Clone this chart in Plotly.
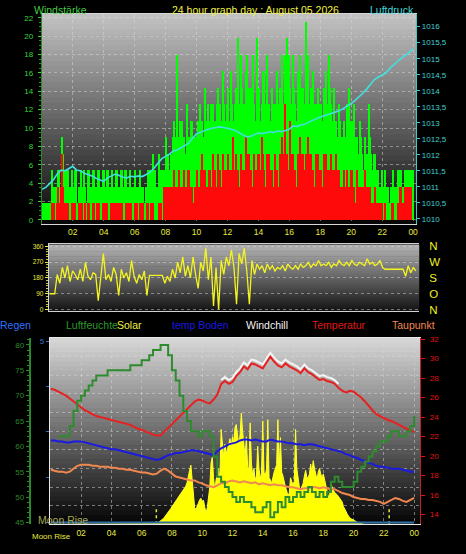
import plotly.graph_objects as go

W, H = 466, 554

# time axes
slot5_h = [i / 12 for i in range(288)]    # 5 minute slots
slot_h = [i / 6 for i in range(144)]      # 10 minute slots
quarter_h = [i / 4 for i in range(97)]    # 15 minute samples
tick_h = [2, 4, 6, 8, 10, 12, 14, 16, 18, 20, 22, 24]
tick_txt = ["02", "04", "06", "08", "10", "12", "14", "16", "18", "20", "22", "00"]

# wind speed km/h, 5 minute slots, one row per hour (gust = green, average = red)
gust_kmh = [
    1.8, 1.8, 1.8, 1.8, 1.8, 1.8, 1.8, 5.4, 3.6, 3.6, 3.6, 3.6,
    5.4, 5.4, 3.6, 9.0, 7.2, 5.4, 5.4, 3.6, 5.4, 3.6, 1.8, 5.4,
    3.6, 5.4, 5.4, 1.8, 3.6, 1.8, 5.4, 3.6, 5.4, 3.6, 1.8, 5.4,
    5.4, 3.6, 3.6, 5.4, 5.4, 3.6, 3.6, 5.4, 5.4, 3.6, 3.6, 5.4,
    5.4, 3.6, 5.4, 5.4, 3.6, 3.6, 5.4, 3.6, 3.6, 5.4, 5.4, 3.6,
    3.6, 5.4, 5.4, 3.6, 5.4, 5.4, 3.6, 3.6, 5.4, 3.6, 3.6, 1.8,
    5.4, 3.6, 3.6, 3.6, 5.4, 3.6, 3.6, 1.8, 3.6, 3.6, 5.4, 5.4,
    5.4, 3.6, 7.2, 5.4, 3.6, 3.6, 7.2, 5.4, 5.4, 5.4, 5.4, 5.4,
    9.0, 7.2, 5.4, 5.4, 7.2, 9.0, 10.8, 9.0, 18.0, 9.0, 9.0, 10.8,
    10.8, 9.0, 9.0, 7.2, 12.6, 9.0, 9.0, 10.8, 10.8, 9.0, 9.0, 7.2,
    9.0, 10.8, 12.6, 9.0, 10.8, 9.0, 14.4, 10.8, 12.6, 9.0, 10.8, 12.6,
    12.6, 9.0, 10.8, 12.6, 14.4, 10.8, 12.6, 10.8, 16.2, 12.6, 10.8, 12.6,
    14.4, 10.8, 16.2, 12.6, 10.8, 12.6, 14.4, 10.8, 19.8, 12.6, 18.0, 14.4,
    12.6, 10.8, 16.2, 18.0, 14.4, 10.8, 14.4, 18.0, 12.6, 10.8, 19.8, 12.6,
    14.4, 10.8, 12.6, 16.2, 16.2, 12.6, 18.0, 12.6, 12.6, 10.8, 14.4, 12.6,
    12.6, 10.8, 16.2, 12.6, 14.4, 10.8, 18.0, 12.6, 18.0, 14.4, 19.8, 18.0,
    14.4, 12.6, 18.0, 14.4, 12.6, 10.8, 16.2, 12.6, 18.0, 14.4, 14.4, 12.6,
    21.6, 14.4, 18.0, 12.6, 14.4, 10.8, 16.2, 12.6, 12.6, 10.8, 14.4, 12.6,
    12.6, 10.8, 14.4, 12.6, 16.2, 12.6, 18.0, 14.4, 12.6, 10.8, 14.4, 10.8,
    10.8, 9.0, 12.6, 10.8, 9.0, 7.2, 10.8, 9.0, 12.6, 10.8, 14.4, 10.8,
    10.8, 9.0, 12.6, 9.0, 9.0, 7.2, 10.8, 9.0, 7.2, 5.4, 9.0, 7.2,
    7.2, 12.6, 9.0, 7.2, 5.4, 7.2, 7.2, 5.4, 5.4, 3.6, 3.6, 5.4,
    3.6, 3.6, 5.4, 3.6, 3.6, 1.8, 3.6, 3.6, 5.4, 3.6, 3.6, 3.6,
    5.4, 5.4, 5.4, 3.6, 3.6, 5.4, 5.4, 5.4, 5.4, 5.4, 5.4, 5.4,
]
avg_kmh = [
    0, 0, 0, 0, 0, 0, 0, 1.8, 0, 1.8, 0, 1.8,
    3.6, 1.8, 3.6, 7.2, 3.6, 1.8, 1.8, 0, 1.8, 0, 0, 1.8,
    1.8, 1.8, 0, 0, 1.8, 0, 1.8, 1.8, 0, 1.8, 0, 1.8,
    1.8, 0, 0, 1.8, 1.8, 0, 1.8, 1.8, 1.8, 0, 0, 1.8,
    1.8, 1.8, 1.8, 0, 0, 1.8, 1.8, 1.8, 1.8, 0, 1.8, 1.8,
    1.8, 1.8, 1.8, 0, 0, 1.8, 1.8, 0, 1.8, 1.8, 0, 0,
    1.8, 1.8, 0, 0, 1.8, 1.8, 1.8, 0, 0, 1.8, 1.8, 0,
    1.8, 1.8, 1.8, 0, 0, 0, 1.8, 1.8, 1.8, 0, 3.6, 1.8,
    3.6, 3.6, 3.6, 1.8, 3.6, 3.6, 5.4, 3.6, 3.6, 3.6, 5.4, 3.6,
    3.6, 3.6, 5.4, 3.6, 3.6, 5.4, 5.4, 3.6, 3.6, 1.8, 3.6, 3.6,
    5.4, 3.6, 3.6, 5.4, 7.2, 5.4, 5.4, 3.6, 3.6, 5.4, 5.4, 3.6,
    7.2, 5.4, 5.4, 3.6, 7.2, 5.4, 5.4, 3.6, 7.2, 5.4, 5.4, 3.6,
    7.2, 5.4, 5.4, 3.6, 9.0, 5.4, 7.2, 5.4, 5.4, 3.6, 7.2, 5.4,
    5.4, 3.6, 9.0, 7.2, 7.2, 5.4, 5.4, 3.6, 7.2, 5.4, 5.4, 7.2,
    7.2, 5.4, 9.0, 7.2, 5.4, 3.6, 7.2, 5.4, 7.2, 5.4, 5.4, 3.6,
    7.2, 5.4, 5.4, 3.6, 7.2, 5.4, 9.0, 7.2, 12.6, 7.2, 7.2, 5.4,
    10.8, 7.2, 7.2, 5.4, 5.4, 3.6, 7.2, 5.4, 9.0, 7.2, 7.2, 5.4,
    7.2, 5.4, 9.0, 7.2, 7.2, 5.4, 5.4, 3.6, 7.2, 5.4, 7.2, 5.4,
    5.4, 3.6, 7.2, 5.4, 7.2, 5.4, 5.4, 3.6, 7.2, 5.4, 5.4, 3.6,
    7.2, 5.4, 5.4, 3.6, 3.6, 1.8, 5.4, 3.6, 5.4, 3.6, 3.6, 5.4,
    5.4, 3.6, 3.6, 1.8, 5.4, 3.6, 3.6, 1.8, 3.6, 3.6, 5.4, 3.6,
    3.6, 3.6, 3.6, 1.8, 1.8, 1.8, 3.6, 1.8, 1.8, 0, 1.8, 1.8,
    0, 0, 1.8, 0, 0, 0, 0, 1.8, 1.8, 0, 0, 0,
    1.8, 3.6, 3.6, 1.8, 1.8, 3.6, 3.6, 3.6, 3.6, 1.8, 3.6, 0,
]

# pressure hPa, every 15 minutes
pressure_hpa = [
    1010.92, 1010.98, 1011.10, 1011.22,
    1011.40, 1011.52, 1011.50, 1011.58,
    1011.64, 1011.52, 1011.50, 1011.42,
    1011.38, 1011.34, 1011.27, 1011.22,
    1011.17, 1011.28, 1011.33, 1011.40,
    1011.35, 1011.30, 1011.28, 1011.33,
    1011.31, 1011.34, 1011.32, 1011.38,
    1011.45, 1011.58, 1011.72, 1011.88,
    1011.95, 1012.02, 1012.12, 1012.15,
    1012.22, 1012.30, 1012.36, 1012.52,
    1012.66, 1012.70, 1012.76, 1012.80,
    1012.83, 1012.86, 1012.87, 1012.85,
    1012.83, 1012.80, 1012.76, 1012.70,
    1012.64, 1012.56, 1012.58, 1012.64,
    1012.68, 1012.66, 1012.70, 1012.72,
    1012.70, 1012.74, 1012.72, 1012.76,
    1012.80, 1012.90, 1012.88, 1012.93,
    1012.95, 1013.02, 1013.08, 1013.12,
    1013.18, 1013.22, 1013.27, 1013.30,
    1013.34, 1013.38, 1013.45, 1013.52,
    1013.60, 1013.70, 1013.80, 1013.92,
    1014.05, 1014.20, 1014.35, 1014.42,
    1014.50, 1014.56, 1014.70, 1014.82,
    1014.92, 1015.02, 1015.10, 1015.20,
    1015.30,
]

# wind direction degrees, 10 minute slots
wind_dir = [
    90, 90, 90, 200, 150, 240,
    180, 250, 160, 220, 200, 170,
    230, 160, 270, 190, 170, 210,
    200, 50, 180, 320, 170, 200,
    160, 240, 200, 80, 230, 180,
    210, 160, 280, 190, 150, 200,
    170, 220, 80, 195, 195, 195,
    195, 195, 195, 150, 190, 160,
    230, 180, 270, 210, 300, 190,
    250, 180, 300, 200, 120, 270,
    220, 350, 170, 300, 20, 240,
    0, 280, 200, 300, 250, 340,
    240, 30, 320, 260, 350, 220,
    30, 280, 200, 260, 230, 250,
    210, 260, 230, 250, 220, 240,
    230, 250, 220, 260, 240, 230,
    250, 230, 260, 240, 250, 270,
    240, 260, 250, 280, 250, 260,
    250, 270, 240, 260, 250, 280,
    260, 250, 270, 250, 280, 260,
    250, 270, 260, 250, 290, 260,
    270, 250, 260, 280, 240, 230,
    230, 230, 230, 230, 230, 230,
    230, 190, 250, 210, 240, 220,
]
dir_vals = [360, 270, 180, 90, 0]
dir_txt = ["N", "W", "S", "O", "N"]

# bottom panel, every 15 minutes
humidity = [
    None, None, 62, 62,
    62, 64, 67, 69,
    70, 71, 72, 73,
    74, 74, 74, 75,
    75, 75, 75, 75,
    75, 76, 76, 76,
    77, 77, 78, 79,
    79, 80, 80, 78,
    75, 73, 70, 67,
    65, 63, 63, 62,
    63, 63, 62, 58,
    54, 53, 52, 51,
    50, 49, 50, 49,
    49, 48, 47, 47,
    48, 49, 46, 47,
    49, 48, 50, 49,
    50, 51, 50, 51,
    52, 51, 50, 51,
    50, 51, 53, 54,
    53, 52, 52, 52,
    53, 55, 56, 57,
    58, 59, 60, 61,
    61, 62, 63, 63,
    62, 62, 63, 64,
    66,
]
temperature = [
    26.9, 26.8, 26.6, 26.4,
    26.2, 25.9, 25.6, 25.3,
    25.0, 24.7, 24.5, 24.3,
    24.1, 24.0, 23.9, 23.8,
    23.7, 23.6, 23.5, 23.4,
    23.3, 23.2, 23.0, 22.8,
    22.7, 22.5, 22.4, 22.2,
    22.1, 22.1, 22.5, 22.9,
    23.2, 23.6, 24.0, 24.4,
    24.8, 25.2, 25.6, 25.8,
    25.7, 25.5, 25.4, 25.8,
    26.3, 27.4, 27.7, 27.4,
    27.6, 28.2, 28.6, 29.2,
    28.9, 29.5, 29.4, 29.2,
    29.0, 29.6, 30.2, 29.7,
    29.3, 29.1, 29.5, 29.2,
    29.0, 28.8, 28.5, 29.0,
    28.6, 28.4, 28.1, 27.8,
    27.9, 27.7, 27.6, 27.4,
    27.0, 26.7, 26.5, 26.7,
    26.6, 26.3, 26.0, 25.6,
    25.1, 24.7, 24.3, 24.1,
    23.9, 23.7, 23.6, 23.4,
    23.2, 23.0, 22.8, 22.6,
    22.5,
]
windchill = [None] * 44 + [
    None, 27.8, 28.1, 27.8,
    28.0, 28.6, 29.0, 29.6,
    29.3, 29.9, 29.8, 29.6,
    29.4, 30.0, 30.6, 30.1,
    29.7, 29.5, 29.9, 29.6,
    29.4, 29.2, 28.9, 29.4,
    29.0, 28.8, 28.5, 28.2,
    28.3, 28.1, 28.0, 27.8,
    27.4, None, None, None,
] + [None] * 17
temp_boden = [
    21.6, 21.6, 21.5, 21.5,
    21.4, 21.4, 21.5, 21.5,
    21.5, 21.4, 21.3, 21.2,
    21.1, 21.0, 20.9, 20.8,
    20.7, 20.7, 20.6, 20.5,
    20.4, 20.3, 20.2, 20.1,
    20.0, 19.9, 19.8, 19.7,
    19.6, 19.7, 19.9, 20.1,
    20.2, 20.3, 20.3, 20.4,
    20.5, 20.6, 20.6, 20.5,
    20.4, 20.3, 20.2, 20.1,
    20.5, 20.8, 21.0, 21.2,
    21.3, 21.4, 21.6, 21.7,
    21.7, 21.6, 21.7, 21.6,
    21.5, 21.5, 21.7, 21.6,
    21.5, 21.5, 21.4, 21.3,
    21.3, 21.2, 21.2, 21.1,
    21.2, 21.2, 21.1, 21.0,
    20.9, 20.8, 20.7, 20.6,
    20.5, 20.4, 20.2, 20.1,
    19.9, 19.8, 19.6, 19.5,
    19.3, 19.2, 19.0, 18.9,
    18.9, 18.8, 18.7, 18.7,
    18.7, 18.6, 18.5, 18.4,
    18.4,
]
taupunkt = [
    18.6, 18.5, 18.4, 18.4,
    18.3, 18.4, 18.7, 19.0,
    19.1, 19.1, 19.1, 19.0,
    19.0, 18.9, 18.9, 18.9,
    18.8, 18.8, 18.7, 18.7,
    18.6, 18.6, 18.5, 18.4,
    18.3, 18.3, 18.2, 18.1,
    18.2, 18.5, 18.7, 18.5,
    18.2, 17.9, 17.8, 17.7,
    17.6, 17.5, 17.5, 17.3,
    17.2, 17.0, 16.9, 16.8,
    17.0, 17.2, 17.2, 17.4,
    17.5, 17.4, 17.3, 17.4,
    17.3, 17.2, 17.3, 17.1,
    17.2, 17.1, 17.0, 17.1,
    17.0, 17.0, 16.9, 16.8,
    16.8, 16.7, 16.6, 16.7,
    16.7, 16.8, 16.8, 16.7,
    16.8, 16.7, 16.6, 16.6,
    16.4, 16.2, 16.1, 16.0,
    15.8, 15.7, 15.6, 15.6,
    15.5, 15.5, 15.4, 15.3,
    15.1, 15.3, 15.5, 15.7,
    15.6, 15.4, 15.3, 15.5,
    15.7,
]
# solar W/m2, 5 minute slots (hours 0-5 and 21-23 are dark)
solar = [0] * 72 + [
    0, 0, 0, 0, 0, 0, 1, 2, 3, 4, 5, 6,
    8, 10, 14, 18, 24, 30, 38, 46, 55, 64, 74, 84,
    95, 105, 112, 120, 130, 140, 150, 160, 170, 180, 192, 205,
    225, 250, 290, 318, 230, 150, 90, 80, 100, 120, 132, 140,
    120, 130, 100, 60, 90, 150, 200, 330, 360, 250, 180, 240,
    260, 300, 240, 510, 420, 360, 430, 380, 400, 440, 460, 420,
    470, 440, 520, 536, 460, 420, 480, 598, 500, 440, 360, 470,
    310, 290, 545, 330, 260, 300, 238, 260, 420, 300, 240, 280,
    555, 280, 260, 300, 562, 250, 240, 220, 260, 280, 300, 320,
    562, 300, 466, 280, 260, 220, 200, 180, 150, 170, 250, 230,
    210, 230, 510, 300, 240, 200, 185, 200, 220, 260, 290, 250,
    250, 270, 324, 280, 342, 300, 260, 240, 280, 300, 271, 250,
    271, 240, 200, 180, 148, 160, 219, 200, 180, 170, 166, 160,
    150, 140, 130, 120, 95, 85, 70, 55, 42, 35, 30, 28,
    26, 20, 15, 10, 8, 5, 3, 1, 0, 0, 0, 0,
] + [0] * 36
rain_h = [0, 24]
rain_mm = [0, 0]
moon_marks_h = [6.97, 22.35]

FONT = "Liberation Sans, Arial, sans-serif"
GRID = "rgba(215,215,215,0.5)"


def fx(px):
    return px / W


def fy(py):
    return 1 - py / H


fig = go.Figure()

# top panel: wind + pressure
fig.add_trace(go.Bar(x=slot5_h, y=gust_kmh, width=1 / 12, offset=0, marker_color="#00ff00",
                     marker_line_width=0, xaxis="x", yaxis="y"))
fig.add_trace(go.Bar(x=slot5_h, y=avg_kmh, width=1 / 12, offset=0, marker_color="#ff0a0a",
                     marker_line_width=0, xaxis="x", yaxis="y"))
fig.add_trace(go.Scatter(x=quarter_h, y=pressure_hpa, mode="lines", line=dict(color="#40e0e0", width=1.6),
                         xaxis="x", yaxis="y2"))

# middle panel: wind direction
fig.add_trace(go.Scatter(x=slot_h, y=wind_dir, mode="lines", line=dict(color="#f4f420", width=1.3),
                         xaxis="x2", yaxis="y3"))
fig.add_trace(go.Scatter(x=[None], y=[None], xaxis="x2", yaxis="y4", hoverinfo="skip"))

# bottom panel
fig.add_trace(go.Scatter(x=slot5_h, y=solar, mode="lines", fill="tozeroy", fillcolor="#ffff00",
                         line=dict(color="#ffff30", width=1), xaxis="x3", yaxis="y5"))
for mh in moon_marks_h:
    fig.add_trace(go.Scatter(x=[mh, mh], y=[0, 95], mode="lines",
                             line=dict(color="#e8e840", width=1.5, dash="dot"), xaxis="x3", yaxis="y5"))
fig.add_trace(go.Scatter(x=quarter_h, y=temp_boden, mode="lines",
                         line=dict(color="#1a1ae0", width=2), xaxis="x3", yaxis="y6"))
fig.add_trace(go.Scatter(x=quarter_h, y=taupunkt, mode="lines",
                         line=dict(color="#f08850", width=2), xaxis="x3", yaxis="y6"))
fig.add_trace(go.Scatter(x=quarter_h, y=windchill, mode="lines",
                         line=dict(color="#f4f4f4", width=2), xaxis="x3", yaxis="y6"))
fig.add_trace(go.Scatter(x=quarter_h, y=temperature, mode="lines",
                         line=dict(color="#e82020", width=2), xaxis="x3", yaxis="y6"))
fig.add_trace(go.Scatter(x=quarter_h, y=humidity, mode="lines", line_shape="hv",
                         line=dict(color="#2e8b2e", width=2), xaxis="x3", yaxis="y7"))
fig.add_trace(go.Scatter(x=rain_h, y=rain_mm, mode="lines",
                         line=dict(color="#2f6fa8", width=2), xaxis="x3", yaxis="y8"))

# grey-to-black backgrounds
shapes = []
panels = [((42, 418, 10, 223), 196, 6), ((49, 421, 244, 312), 182, 18), ((50, 422, 339, 528), 216, 4)]
for (x0, x1, y0, y1), top, bot in panels:
    n = 40
    for i in range(n):
        c = int(top + (bot - top) * (i + 0.5) / n)
        ya = y0 + (y1 - y0) * i / n
        yb = y0 + (y1 - y0) * (i + 1) / n + 0.6
        shapes.append(dict(type="rect", xref="paper", yref="paper", layer="below",
                           x0=fx(x0), x1=fx(x1), y0=fy(yb), y1=fy(ya),
                           fillcolor=f"rgb({c},{c},{c})", line_width=0))

ann = []


def label(text, xpx, ypx, color, size, anchor="center"):
    ann.append(dict(text=text, x=fx(xpx), y=fy(ypx), xref="paper", yref="paper", showarrow=False,
                    xanchor=anchor, yanchor="middle", font=dict(family=FONT, size=size, color=color)))


label("Windstärke", 61, 6, "#44cc44", 10.5)
label("24 hour graph day : August 05 2026", 257, 6, "#f0f040", 10.5)
label("Luftdruck", 394, 6, "#40d8d8", 10.5)
label("Regen", 16, 326, "#3070ff", 10.5)
label("Luftfeuchte", 92, 326, "#2e9a2e", 10.5)
label("Solar", 130, 326, "#f0f040", 10.5)
label("temp Boden", 201, 326, "#1a1ae0", 10.5)
label("Windchill", 268, 326, "#f4f4f4", 10.5)
label("Temperatur", 340, 326, "#e01818", 10.5)
label("Taupunkt", 415, 326, "#f08850", 10.5)
label("Moon Rise", 36, 524, "#a8a850", 10.5, "left")
label("Moon Rise", 73, 540, "#e8e840", 8, "right")

tfont = dict(family=FONT, size=8.5, color="#e8e840")
fig.update_layout(
    width=W, height=H, margin=dict(l=0, r=0, t=0, b=0),
    paper_bgcolor="black", plot_bgcolor="rgba(0,0,0,0)",
    showlegend=False, barmode="overlay", bargap=0,
    shapes=shapes, annotations=ann,
    font=dict(family=FONT),
    xaxis=dict(domain=[fx(42), fx(418)], range=[0, 24.2], anchor="y", tickvals=tick_h, ticktext=tick_txt,
               tickfont=tfont, showgrid=True, gridcolor=GRID, griddash="dot", zeroline=False,
               showline=True, linecolor="#d8d8d8", mirror=True),
    yaxis=dict(domain=[fy(223), fy(10)], range=[-0.43, 22.43], anchor="x", tickvals=list(range(0, 23, 2)),
               tickfont=dict(family=FONT, size=8, color="#3cd23c"), showgrid=True, gridcolor=GRID,
               griddash="dot", zeroline=False, showline=True, linecolor="#2a8a2a",
               ticks="outside", ticklen=3, tickcolor="#3cd23c", ticklabelstandoff=3,
               minor=dict(ticks="outside", ticklen=2, dtick=0.5, tickcolor="#2a8a2a")),
    yaxis2=dict(range=[1009.846, 1016.4], overlaying="y", side="right", anchor="x",
                tickvals=[1010 + 0.5 * k for k in range(13)],
                ticktext=["1010", "1010,5", "1011", "1011,5", "1012", "1012,5", "1013", "1013,5",
                          "1014", "1014,5", "1015", "1015,5", "1016"],
                tickfont=dict(family=FONT, size=8, color="#40d0d0"), showgrid=False, zeroline=False,
                showline=True, linecolor="#40c8c8", ticks="outside", ticklen=3, tickcolor="#40c8c8"),
    xaxis2=dict(domain=[fx(49), fx(421)], range=[-0.05, 24.05], anchor="y3", showticklabels=False,
                showgrid=False, zeroline=False, showline=True, linecolor="#d0d0d0", mirror=True),
    yaxis3=dict(domain=[fy(312), fy(244)], range=[-11.25, 371.25], anchor="x2", tickvals=[0, 90, 180, 270, 360],
                tickfont=dict(family=FONT, size=6.5, color="#e8e840"), showgrid=True, gridcolor=GRID,
                griddash="dot", zeroline=False, showline=True, linecolor="#d8d8d8",
                ticks="outside", ticklen=3, tickcolor="#e8e840",
                minor=dict(ticks="outside", ticklen=2, dtick=15, tickcolor="#c8c830")),
    yaxis4=dict(range=[-11.25, 371.25], overlaying="y3", side="right", anchor="x2", tickvals=dir_vals,
                ticktext=dir_txt, tickfont=dict(family=FONT, size=11.5, color="#f0f020"), showgrid=False,
                zeroline=False, showline=False, ticklabelstandoff=9),
    xaxis3=dict(domain=[fx(50), fx(422)], range=[-0.07, 24.4], anchor="y5", tickvals=tick_h, ticktext=tick_txt,
                tickfont=tfont, showgrid=True, gridcolor=GRID, griddash="dot", zeroline=False,
                showline=True, linecolor="#e8e8e8", mirror=True),
    yaxis5=dict(domain=[fy(528), fy(339)], range=[0, 1000], anchor="x3", dtick=100, showticklabels=False,
                showgrid=True, gridcolor=GRID, griddash="dot", zeroline=False, showline=True, linecolor="#e8e8e8"),
    yaxis6=dict(range=[12.99, 32.1], overlaying="y5", side="right", anchor="x3", tickvals=list(range(14, 33, 2)),
                tickfont=dict(family=FONT, size=8, color="#e01010"), showgrid=False, zeroline=False,
                showline=True, linecolor="#c02020", ticks="outside", ticklen=4, tickcolor="#e01010",
                ticklabelstandoff=3),
    yaxis7=dict(range=[44.61, 81.36], overlaying="y5", side="left", anchor="free", position=fx(30),
                tickvals=list(range(45, 81, 5)), tickfont=dict(family=FONT, size=8, color="#2a8a2a"),
                showgrid=False, zeroline=False, showline=True, linecolor="#2a8a2a", linewidth=2,
                ticks="outside", ticklen=3, tickcolor="#2a8a2a",
                minor=dict(ticks="outside", ticklen=2, dtick=1, tickcolor="#2a8a2a")),
    yaxis8=dict(range=[-0.054, 5.08], overlaying="y5", side="left", anchor="x3",
                tickvals=[0, 1.25, 2.5, 3.75, 5], ticktext=["", "", "", "", "5"],
                tickfont=dict(family=FONT, size=8, color="#3070d0"), showgrid=False, zeroline=False,
                showline=False, ticks="outside", ticklen=3, tickcolor="#3070d0"),
)

fig.write_html("out.html", config={"displayModeBar": False},
               post_script="document.body.style.margin='0';document.body.style.background='black';")
